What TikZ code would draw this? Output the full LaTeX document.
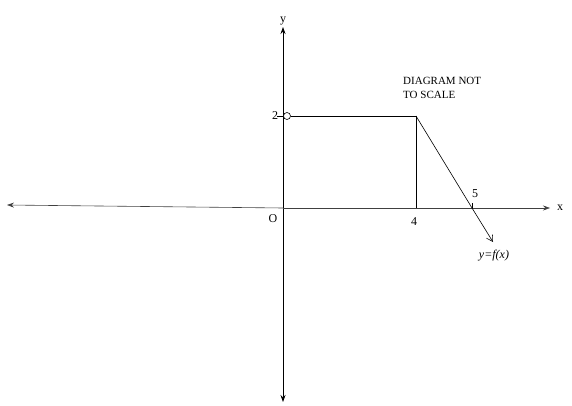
\documentclass[tikz,border=0pt]{standalone}
\usepackage{fontspec}
\setmainfont{Liberation Serif}
\usetikzlibrary{arrows.meta,calc}

\begin{document}
\begin{tikzpicture}[x=1pt,y=-1pt,
  axis/.style={line width=0.8pt,-{Stealth[length=7pt,width=5pt]}},
  lbl/.style={font=\fontsize{12}{12}\selectfont,inner sep=1pt}]
  \useasboundingbox (0,0) rectangle (572,406);
  % axes
  \coordinate (O) at (283,208);
  \coordinate (ytop) at (283,27);
  \coordinate (ybot) at (283,402);
  \coordinate (xleft) at (7,205);
  \coordinate (xright) at (550,208);
  \draw [axis] (O) -- (ytop);
  \draw [axis] (O) -- (ybot);
  \draw [axis,line width=0.6pt,black!75] (O) -- (xleft);
  \draw [axis,line width=0.6pt,black!75] (O) -- (xright);
  \node [lbl,above=1pt] (ylab) at (ytop) {y};
  \node [lbl,right=6pt] (xlab) at (xright) {x};
  \node [lbl] (olab) at (273,219) {O};
  % graph
  \node [draw,circle,fill=white,inner sep=0pt,minimum size=7pt,
    line width=0.6pt] (hole) at (287,116) {};
  \coordinate (corner) at (416,116);
  \coordinate (foot) at (416,208);
  \coordinate (cross) at (472,208);
  \coordinate (tip) at (493,242);
  \draw [line width=0.6pt] (hole) -- (corner);
  \draw [line width=0.5pt] (corner) -- (foot);
  \draw [line width=0.6pt,-{Straight Barb[length=6pt,width=7pt]}]
    (corner) -- (cross) -- (tip);
  % ticks
  \draw [line width=0.5pt] (277,116) -- (hole.west);
  \draw [line width=0.5pt] (472,203) -- (cross);
  \node [lbl] (twolab) at (275,116) {2};
  \node [lbl] (fourlab) at (414,222) {4};
  \node [lbl] (fivelab) at (475,194) {5};
  \node [lbl,font=\fontsize{12}{12}\selectfont\itshape] (flab) at (494,256)
    {y=f(x)};
  % note
  \node [font=\fontsize{11}{14}\selectfont,align=left,anchor=north west,
    inner sep=0pt] (note) at (403,77) {DIAGRAM NOT\\TO SCALE};
\end{tikzpicture}
\end{document}
